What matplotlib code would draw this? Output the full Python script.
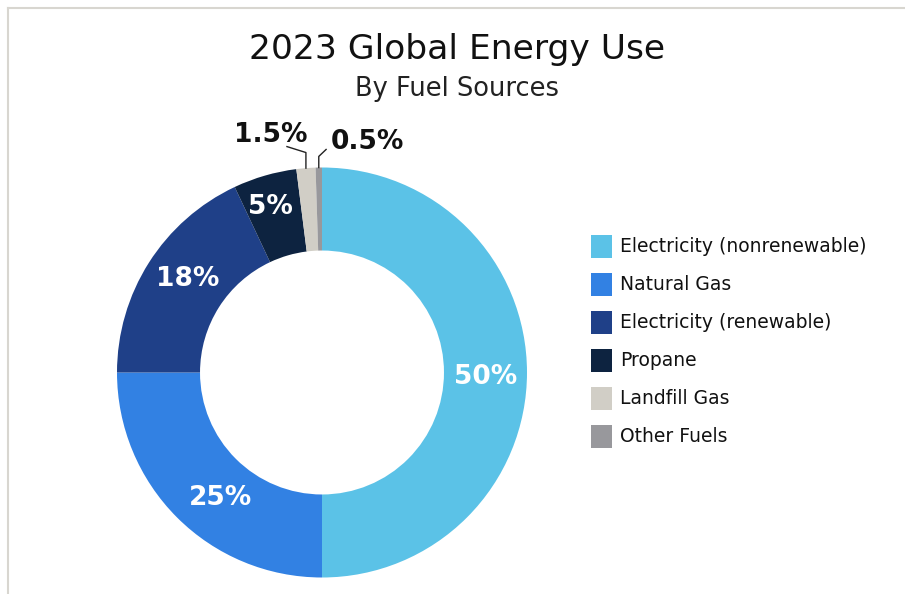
import numpy as np
import matplotlib
matplotlib.use('Agg')
import matplotlib.pyplot as plt
from matplotlib.lines import Line2D
from matplotlib.patches import Rectangle

plt.rcParams['font.family'] = ['DejaVu Sans']

labels = ['Electricity (nonrenewable)', 'Natural Gas', 'Electricity (renewable)',
          'Propane', 'Landfill Gas', 'Other Fuels']
shares = [50, 25, 18, 5, 1.5, 0.5]
pct_labels = ['50%', '25%', '18%', '5%', '1.5%', '0.5%']
colors = ['#5bc2e7', '#3281e3', '#1f4088', '#0d2340', '#d1cec6', '#98989c']

W, H = 905, 594
fig = plt.figure(figsize=(W / 100, H / 100), dpi=100)

# light frame along top and left edges
fig.add_artist(Line2D([7.5 / W, 7.5 / W], [0, 1 - 8 / H], color='#d8d6d0', lw=1.5))
fig.add_artist(Line2D([7.5 / W, 1], [1 - 8 / H, 1 - 8 / H], color='#d8d6d0', lw=1.5))

fig.text(457 / W, 1 - 49 / H, '2023 Global Energy Use', ha='center', va='center',
         fontsize=24.8, color='#111111')
fig.text(457 / W, 1 - 89 / H, 'By Fuel Sources', ha='center', va='center',
         fontsize=18.5, color='#222222')

ax = fig.add_axes([117 / W, 16 / H, 410 / W, 411 / H])
wedges, _ = ax.pie(shares, colors=colors, startangle=90, counterclock=False,
                   radius=1.0, wedgeprops=dict(width=0.405, linewidth=0))
ax.set_xlim(-1, 1)
ax.set_ylim(-1, 1)
ax.axis('off')

# percentage labels inside the ring for the larger slices
cum = np.cumsum([0] + shares[:-1])
mids = [90 - (c + s / 2) / 100 * 360 for c, s in zip(cum, shares)]
nudge = [(0, -4.5), (14, -10), (4, 6), (-4, 2)]  # px, small hand adjustments
for i in range(4):
    a = np.deg2rad(mids[i])
    r = 0.80 if i < 3 else 0.83
    ax.annotate(pct_labels[i], (r * np.cos(a), r * np.sin(a)),
                xytext=(nudge[i][0] * 0.72, nudge[i][1] * 0.72), textcoords='offset points',
                ha='center', va='center', fontsize=19, fontweight='bold', color='white')

# small slices get leader lines
a4 = np.deg2rad(mids[4])
x4 = np.cos(a4)
ax.plot([x4, x4, -0.171], [np.sin(a4), 1.073, 1.102], color='#222222', lw=1, clip_on=False)
ax.text(-0.07, 1.16, pct_labels[4], ha='right', va='center', fontsize=19,
        fontweight='bold', color='#111111')
a5 = np.deg2rad(mids[5])
x5 = np.cos(a5)
ax.plot([x5, x5, 0.02], [np.sin(a5), 1.054, 1.088], color='#222222', lw=1, clip_on=False)
ax.text(0.045, 1.122, pct_labels[5], ha='left', va='center', fontsize=19,
        fontweight='bold', color='#111111')

# legend: colour squares with labels
for i, (lab, col) in enumerate(zip(labels, colors)):
    yc = 246.5 + i * 38
    fig.add_artist(Rectangle((591 / W, 1 - (yc + 11.5) / H), 21 / W, 23 / H,
                             facecolor=col, edgecolor='none'))
    fig.text(620 / W, 1 - yc / H, lab, ha='left', va='center', fontsize=13.5,
             color='#111111')

fig.savefig('out.png', dpi=100)
